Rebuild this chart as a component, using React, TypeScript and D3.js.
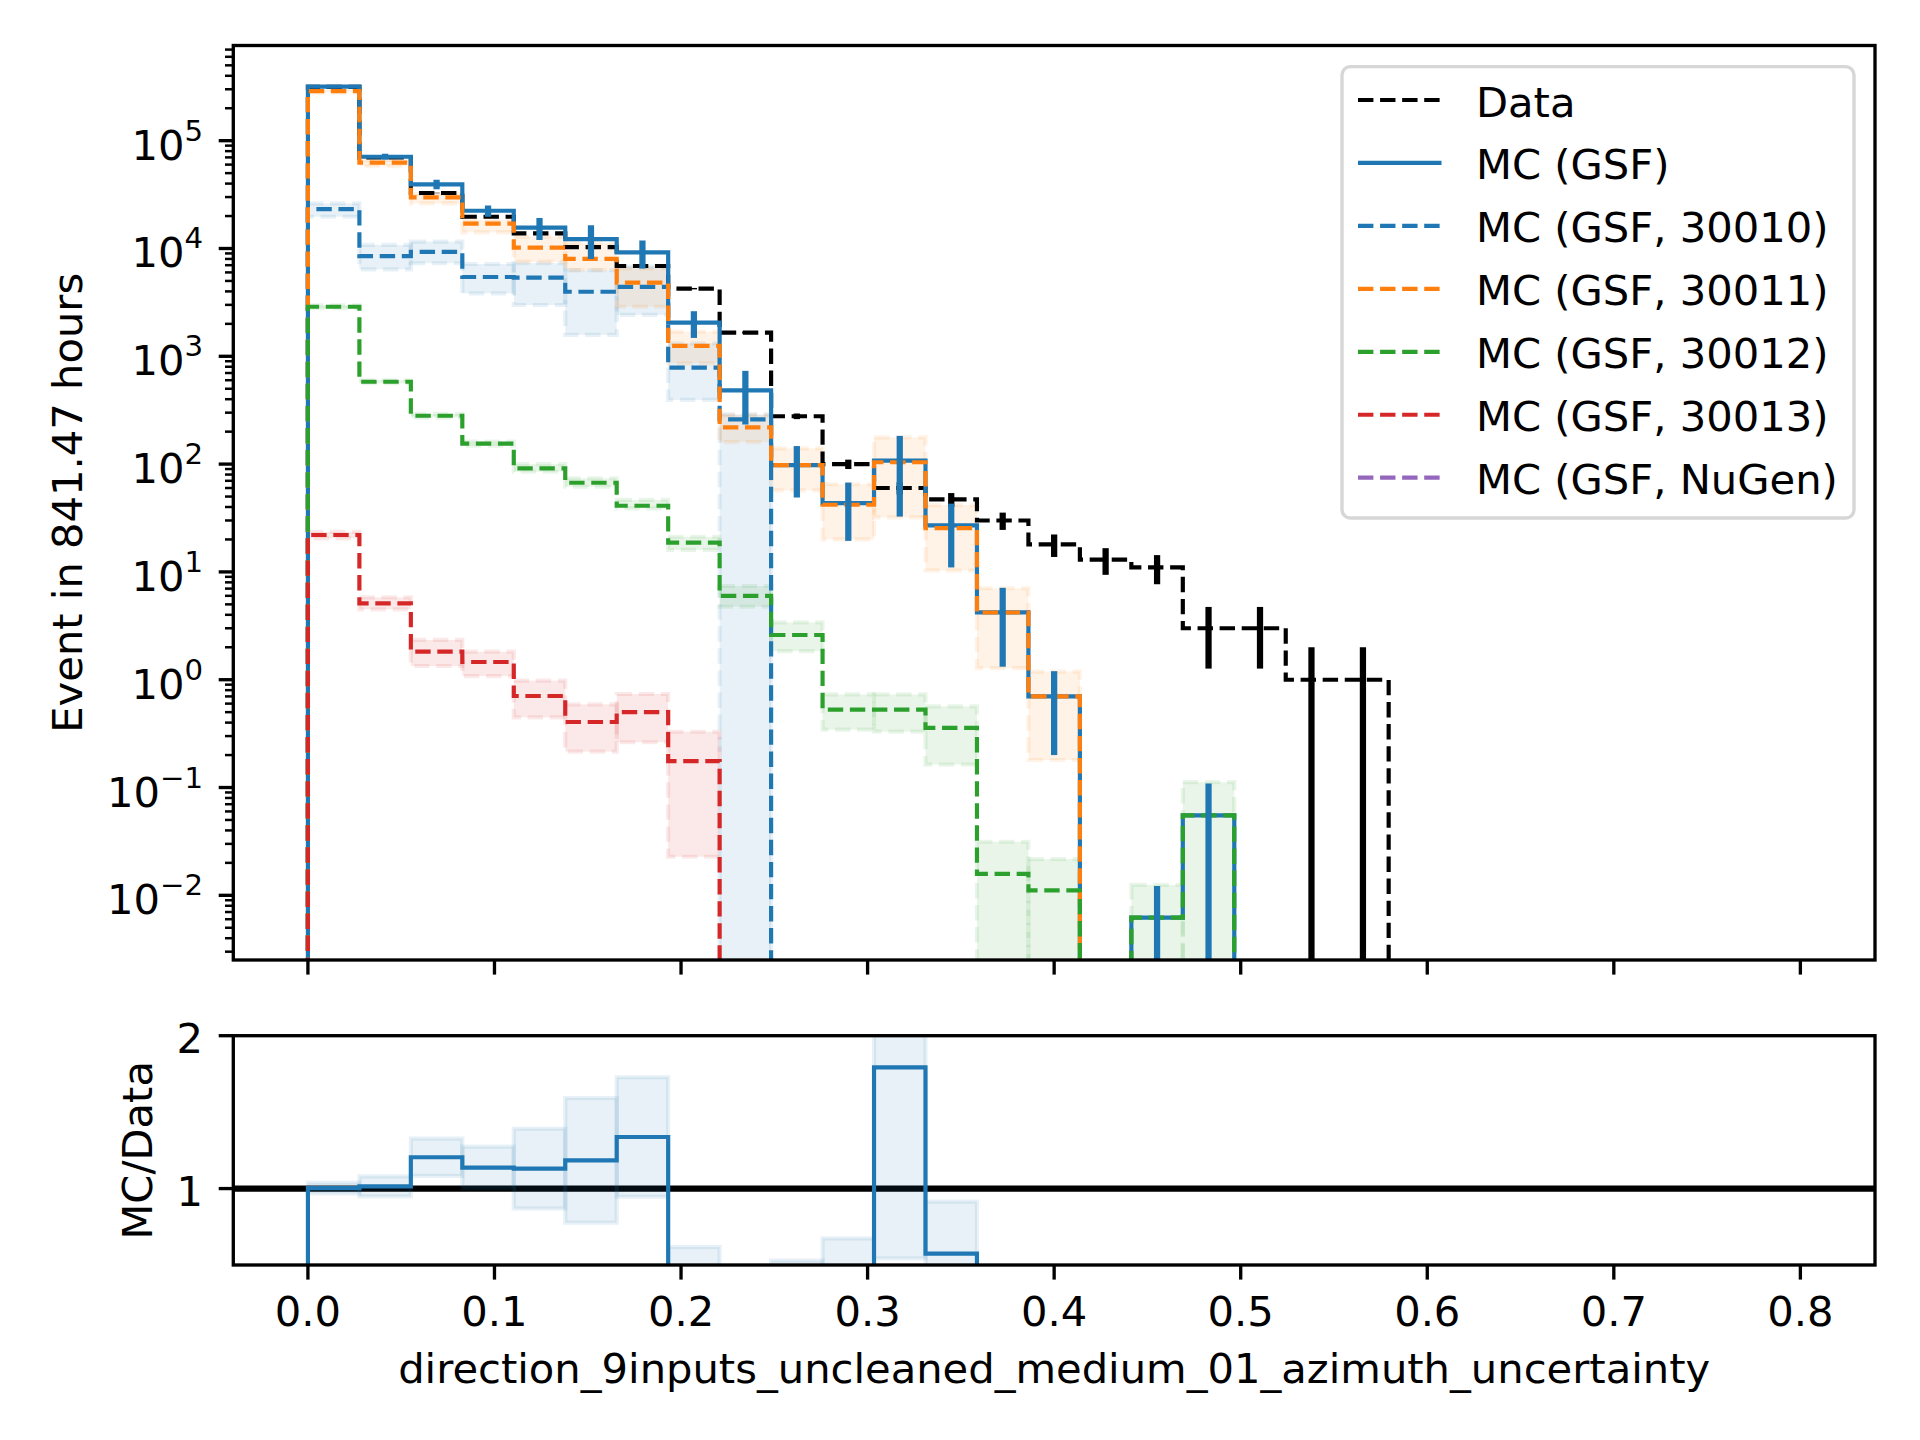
import React from "react";
import * as d3 from "d3";

// ---------------- data ----------------
const BIN_LO = 0;
const BIN_HI = 0.8;
const N_BINS = 29;

const dataCounts = [316000, 70000, 32700, 19700, 13800, 10300, 6880, 4240, 1660, 278, 100, 60, 47, 30, 18, 13, 11, 3, 3, 1, 1, 0, 0, 0, 0, 0, 0, 0, 0];

const mcTotal = [317000, 71000, 39400, 22400, 15600, 12200, 9200, 2050, 483, 98, 43.4, 107.6, 27, 4.22, 0.7, 0, 0.00622, 0.0551, 0, 0, 0, 0, 0, 0, 0, 0, 0, 0, 0];
const mcTotalErr = [11000, 4600, 4000, 2700, 3600, 4200, 2690, 570, 250, 49, 24, 75, 16, 2.9, 0.5, 0, 0.006, 0.054, 0, 0, 0, 0, 0, 0, 0, 0, 0, 0, 0];

const mc30010 = [23200, 8500, 9300, 5440, 5360, 3970, 4400, 784, 260, 0, 0, 0, 0, 0, 0, 0, 0, 0, 0, 0, 0, 0, 0, 0, 0, 0, 0, 0, 0];
const mc30010Lo = [19700, 6410, 7300, 3840, 2990, 1580, 2420, 394, 0, 0, 0, 0, 0, 0, 0, 0, 0, 0, 0, 0, 0, 0, 0, 0, 0, 0, 0, 0, 0];
const mc30010Hi = [26200, 10800, 11600, 7180, 7300, 6300, 6780, 1320, 290, 0, 0, 0, 0, 0, 0, 0, 0, 0, 0, 0, 0, 0, 0, 0, 0, 0, 0, 0, 0];

const mc30011 = [288000, 62500, 29800, 17000, 10200, 8000, 4820, 1250, 219, 98, 42, 104, 25.5, 4.2, 0.7, 0, 0, 0, 0, 0, 0, 0, 0, 0, 0, 0, 0, 0, 0];
const mc30011Lo = [280000, 58000, 26200, 14100, 7550, 6300, 2880, 861, 160, 57, 20, 32, 10.3, 1.28, 0.18, 0, 0, 0, 0, 0, 0, 0, 0, 0, 0, 0, 0, 0, 0];
const mc30011Hi = [296000, 66000, 32000, 18400, 12900, 11200, 6550, 1690, 285, 140, 65, 177, 41.7, 7.05, 1.19, 0, 0, 0, 0, 0, 0, 0, 0, 0, 0, 0, 0, 0, 0];

const mc30012 = [2880, 581, 281, 155, 91.4, 67.2, 41.1, 18.7, 6.0, 2.6, 0.528, 0.528, 0.358, 0.0158, 0.0111, 0, 0.00622, 0.0551, 0, 0, 0, 0, 0, 0, 0, 0, 0, 0, 0];
const mc30012Lo = [2790, 562, 270, 148, 85, 61.7, 38.9, 16.0, 4.75, 1.84, 0.344, 0.33, 0.163, 0, 0, 0, 0, 0, 0, 0, 0, 0, 0, 0, 0, 0, 0, 0, 0];
const mc30012Hi = [2970, 600, 292, 162, 100, 73.8, 46.5, 21.2, 7.4, 3.4, 0.73, 0.73, 0.566, 0.0314, 0.0217, 0, 0.0125, 0.112, 0, 0, 0, 0, 0, 0, 0, 0, 0, 0, 0];

const mc30013 = [22, 5.11, 1.82, 1.46, 0.706, 0.405, 0.501, 0.176, 0, 0, 0, 0, 0, 0, 0, 0, 0, 0, 0, 0, 0, 0, 0, 0, 0, 0, 0, 0, 0];
const mc30013Lo = [20.5, 4.5, 1.34, 1.08, 0.448, 0.215, 0.263, 0.0228, 0, 0, 0, 0, 0, 0, 0, 0, 0, 0, 0, 0, 0, 0, 0, 0, 0, 0, 0, 0, 0];
const mc30013Hi = [23.5, 5.81, 2.34, 1.82, 0.98, 0.591, 0.737, 0.329, 0, 0, 0, 0, 0, 0, 0, 0, 0, 0, 0, 0, 0, 0, 0, 0, 0, 0, 0, 0, 0];

const mcNuGen = [0, 0, 0, 0, 0, 0, 0, 0, 0, 0, 0, 0, 0, 0, 0, 0, 0, 0, 0, 0, 0, 0, 0, 0, 0, 0, 0, 0, 0];

const xTicks = [0, 0.1, 0.2, 0.3, 0.4, 0.5, 0.6, 0.7, 0.8];
const yMajorExps = [-2, -1, 0, 1, 2, 3, 4, 5];
const ratioTicks = [1, 2];

const legendLabels = ["Data", "MC (GSF)", "MC (GSF, 30010)", "MC (GSF, 30011)", "MC (GSF, 30012)", "MC (GSF, 30013)", "MC (GSF, NuGen)"];
const legendColors = ["#000000", "#1f77b4", "#1f77b4", "#ff7f0e", "#2ca02c", "#d62728", "#9467bd"];
const legendDashed = [true, false, true, true, true, true, true];

const xLabel = "direction_9inputs_uncleaned_medium_01_azimuth_uncertainty";
const yLabel = "Event in 841.47 hours";
const ratioLabel = "MC/Data";

// ---------------- layout ----------------
const W = 1920;
const H = 1440;
const AX_L = 233.3;
const AX_R = 1875;
const MAIN_T = 45.5;
const MAIN_B = 960;
const RAT_T = 1035.7;
const RAT_B = 1265;
const FS = 41.67;
const LW = 4.17;
const DASH = "15.4 6.67";
const FONT = "DejaVu Sans, Liberation Sans, sans-serif";

export default function App() {
  const edges = d3.range(N_BINS + 1).map((i) => BIN_LO + ((BIN_HI - BIN_LO) * i) / N_BINS);
  const centers = d3.range(N_BINS).map((i) => (edges[i] + edges[i + 1]) / 2);

  const x = d3.scaleLinear().domain([-0.04, 0.84]).range([AX_L, AX_R]);
  const y = d3.scaleLog().domain([Math.pow(10, -2.6), Math.pow(10, 5.883)]).range([MAIN_B, MAIN_T]);
  const yr = d3.scaleLinear().domain([0.5, 2]).range([RAT_B, RAT_T]);

  const yv = (v: number) => (v > 0 ? y(v) : MAIN_B + 300);

  const stepPath = (vals: number[], ys: (v: number) => number, n: number) => {
    let d = `M${x(edges[0])},${ys(0)}`;
    for (let i = 0; i < n; i++) {
      d += `L${x(edges[i])},${ys(vals[i])}L${x(edges[i + 1])},${ys(vals[i])}`;
    }
    d += `L${x(edges[n])},${ys(0)}`;
    return d;
  };

  const bands = (lo: number[], hi: number[], color: string, key: string) =>
    hi.map((h, i) =>
      h > 0 ? (
        <rect
          key={key + i}
          x={x(edges[i])}
          y={yv(h)}
          width={x(edges[i + 1]) - x(edges[i])}
          height={yv(lo[i]) - yv(h)}
          fill={color}
          fillOpacity={0.1}
          stroke={color}
          strokeOpacity={0.1}
          strokeWidth={LW}
          strokeDasharray={DASH}
        />
      ) : null
    );

  // ratio
  let lastData = 0;
  dataCounts.forEach((d, i) => {
    if (d > 0) lastData = i;
  });
  const nRatio = lastData + 1;
  const ratio = dataCounts.map((d, i) => (d > 0 ? mcTotal[i] / d : NaN));
  const ryv = (v: number) => (isFinite(v) ? Math.max(Math.min(yr(v), RAT_B + 300), RAT_T - 300) : RAT_B + 300);

  // minor ticks for log axis
  const minorTicks: number[] = [];
  for (let e = -3; e <= 5; e++) {
    for (let m = 2; m <= 9; m++) {
      const v = m * Math.pow(10, e);
      const py = y(v);
      if (py >= MAIN_T - 0.5 && py <= MAIN_B + 0.5) minorTicks.push(v);
    }
  }

  const components = [
    { v: mc30010, c: "#1f77b4" },
    { v: mc30011, c: "#ff7f0e" },
    { v: mc30012, c: "#2ca02c" },
    { v: mc30013, c: "#d62728" },
    { v: mcNuGen, c: "#9467bd" },
  ];

  const legX = 1342;
  const legY = 66.7;
  const legW = 512;
  const legH = 451.3;
  const rowY0 = 100;
  const rowStep = 62.95;

  return (
    <svg width={W} height={H} style={{ position: "absolute", left: 0, top: 0, background: "#fff" }} fontFamily={FONT}>
      <defs>
        <clipPath id="clipMain">
          <rect x={AX_L} y={MAIN_T} width={AX_R - AX_L} height={MAIN_B - MAIN_T} />
        </clipPath>
        <clipPath id="clipRatio">
          <rect x={AX_L} y={RAT_T} width={AX_R - AX_L} height={RAT_B - RAT_T} />
        </clipPath>
      </defs>
      <rect x={0} y={0} width={W} height={H} fill="#fff" />

      {/* ---------- main panel ---------- */}
      <g clipPath="url(#clipMain)">
        {bands(mc30010Lo, mc30010Hi, "#1f77b4", "b10")}
        {bands(mc30011Lo, mc30011Hi, "#ff7f0e", "b11")}
        {bands(mc30012Lo, mc30012Hi, "#2ca02c", "b12")}
        {bands(mc30013Lo, mc30013Hi, "#d62728", "b13")}

        <path d={stepPath(dataCounts, yv, N_BINS)} fill="none" stroke="#000" strokeWidth={LW} strokeDasharray={DASH} />
        <path d={stepPath(mcTotal, yv, N_BINS)} fill="none" stroke="#1f77b4" strokeWidth={LW} />
        {components.map((c, k) => (
          <path key={"c" + k} d={stepPath(c.v, yv, N_BINS)} fill="none" stroke={c.c} strokeWidth={LW} strokeDasharray={DASH} />
        ))}

        {dataCounts.map((d, i) =>
          d > 0 ? (
            <line key={"de" + i} x1={x(centers[i])} x2={x(centers[i])} y1={yv(d - Math.sqrt(d))} y2={yv(d + Math.sqrt(d))} stroke="#000" strokeWidth={6.25} />
          ) : null
        )}
        {mcTotal.map((m, i) =>
          m > 0 ? (
            <line key={"me" + i} x1={x(centers[i])} x2={x(centers[i])} y1={yv(m - mcTotalErr[i])} y2={yv(m + mcTotalErr[i])} stroke="#1f77b4" strokeWidth={6.25} />
          ) : null
        )}
      </g>

      {/* main axes ticks */}
      {yMajorExps.map((e) => {
        const py = y(Math.pow(10, e));
        return (
          <g key={"ym" + e}>
            <line x1={AX_L - 14.6} x2={AX_L} y1={py} y2={py} stroke="#000" strokeWidth={3.33} />
            <text x={203} y={py + 19} textAnchor="end" fontSize={FS} fill="#000">
              10
              <tspan dy={-19} fontSize={29.2}>
                {e < 0 ? "\u2212" + Math.abs(e) : String(e)}
              </tspan>
            </text>
          </g>
        );
      })}
      {minorTicks.map((v, i) => (
        <line key={"yn" + i} x1={AX_L - 8.33} x2={AX_L} y1={y(v)} y2={y(v)} stroke="#000" strokeWidth={2.5} />
      ))}
      {xTicks.map((t) => (
        <line key={"xm" + t} x1={x(t)} x2={x(t)} y1={MAIN_B} y2={MAIN_B + 14.6} stroke="#000" strokeWidth={3.33} />
      ))}
      <rect x={AX_L} y={MAIN_T} width={AX_R - AX_L} height={MAIN_B - MAIN_T} fill="none" stroke="#000" strokeWidth={3.33} />

      <text transform={`translate(81.5,${(MAIN_T + MAIN_B) / 2}) rotate(-90)`} textAnchor="middle" fontSize={FS} fill="#000">
        {yLabel}
      </text>

      {/* legend */}
      <rect x={legX} y={legY} width={legW} height={legH} rx={8.3} ry={8.3} fill="#fff" fillOpacity={0.8} stroke="#cccccc" strokeOpacity={0.8} strokeWidth={3.33} />
      {legendLabels.map((lab, i) => {
        const ly = rowY0 + i * rowStep;
        return (
          <g key={"lg" + i}>
            <line x1={1358} x2={1441.5} y1={ly} y2={ly} stroke={legendColors[i]} strokeWidth={LW} strokeDasharray={legendDashed[i] ? DASH : undefined} />
            <text x={1476} y={ly + 16.5} fontSize={FS} fill="#000">
              {lab}
            </text>
          </g>
        );
      })}

      {/* ---------- ratio panel ---------- */}
      <g clipPath="url(#clipRatio)">
        <line x1={AX_L} x2={AX_R} y1={yr(1)} y2={yr(1)} stroke="#000" strokeWidth={6.25} />
        {mcTotal.map((m, i) => {
          const d = dataCounts[i];
          if (!(d > 0) || !(m > 0)) return null;
          const hi = (m + mcTotalErr[i]) / d;
          const lo = (m - mcTotalErr[i]) / d;
          return (
            <rect
              key={"rb" + i}
              x={x(edges[i])}
              y={ryv(hi)}
              width={x(edges[i + 1]) - x(edges[i])}
              height={ryv(lo) - ryv(hi)}
              fill="#1f77b4"
              fillOpacity={0.1}
              stroke="#1f77b4"
              strokeOpacity={0.1}
              strokeWidth={LW}
            />
          );
        })}
        <path d={stepPath(ratio, (v) => (v === 0 ? RAT_B + 300 : ryv(v)), nRatio)} fill="none" stroke="#1f77b4" strokeWidth={LW} />
      </g>
      {ratioTicks.map((t) => (
        <g key={"rt" + t}>
          <line x1={AX_L - 14.6} x2={AX_L} y1={yr(t)} y2={yr(t)} stroke="#000" strokeWidth={3.33} />
          <text x={203} y={yr(t) + 17.5} textAnchor="end" fontSize={FS} fill="#000">
            {String(t)}
          </text>
        </g>
      ))}
      {xTicks.map((t) => (
        <g key={"rx" + t}>
          <line x1={x(t)} x2={x(t)} y1={RAT_B} y2={RAT_B + 14.6} stroke="#000" strokeWidth={3.33} />
          <text x={x(t)} y={1326} textAnchor="middle" fontSize={FS} fill="#000">
            {d3.format(".1f")(t)}
          </text>
        </g>
      ))}
      <rect x={AX_L} y={RAT_T} width={AX_R - AX_L} height={RAT_B - RAT_T} fill="none" stroke="#000" strokeWidth={3.33} />
      <text transform={`translate(152,${(RAT_T + RAT_B) / 2}) rotate(-90)`} textAnchor="middle" fontSize={FS} fill="#000">
        {ratioLabel}
      </text>
      <text x={(AX_L + AX_R) / 2} y={1383} textAnchor="middle" fontSize={FS} fill="#000">
        {xLabel}
      </text>
    </svg>
  );
}
